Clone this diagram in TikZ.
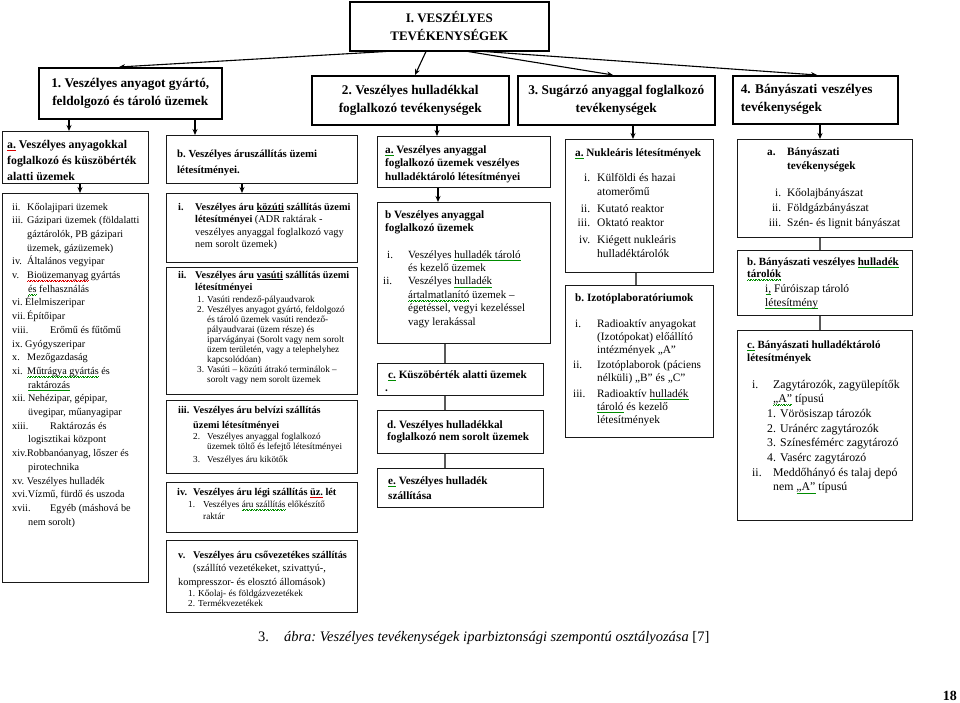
\documentclass[tikz,border=0pt]{standalone}
\usepackage{fontspec}
\setmainfont{Liberation Serif}
\usetikzlibrary{arrows.meta}
\newcommand\lb[2][15pt]{\makebox[#1][l]{#2}}
\newcommand\rl[2][14pt]{\makebox[#1][r]{#2}}
\newcommand\ind[1][15pt]{\hspace*{#1}}
\newcommand\wv[2]{\setbox0\hbox{#2}\rlap{\color{#1}\makebox[\wd0][l]{\xleaders\hbox{\rule[-2.9pt]{0.8pt}{0.55pt}\rule[-2.3pt]{0.8pt}{0.55pt}}\hfill}}\box0\relax}
\newcommand\sqr[1]{\wv{red!85!black}{#1}}
\newcommand\sqg[1]{\wv{green!55!black}{#1}}
\newcommand\T[5]{\node[anchor=base west, inner sep=0pt, font=#4] (#1) at (#2,#3) {\begin{tabular}[t]{@{}l@{}}#5\end{tabular}};}
\newcommand\B[5]{\node[bx, minimum width=#4pt, minimum height=#5pt] (#1) at (#2,#3) {};}
\tikzset{
  bx/.style={draw=black!90, line width=1.2pt, inner sep=0pt, anchor=north west},
  tbx/.style={bx, draw=black, line width=1.5pt},
  lvl/.style={tbx, align=center, font=\bfseries\fontsize{13.3}{18}\selectfont},
  arr/.style={line width=1.1pt, -{Stealth[length=6pt,width=5pt]}},
  ln/.style={line width=1.4pt, draw=black!65},
}
\begin{document}
\frenchspacing
\begin{tikzpicture}[x=1pt,y=-1pt]
\useasboundingbox (0,0) rectangle (960,702);
\fill[white] (0,0) rectangle (960,702);

% top and level 2
\node[tbx, minimum width=199pt, minimum height=49pt, align=center, font=\bfseries\fontsize{13}{18}\selectfont] (top) at (349,1) {I. VESZÉLYES\\TEVÉKENYSÉGEK};
\node[lvl, minimum width=183pt, minimum height=51pt] (L1) at (38,67) {1. Veszélyes anyagot gyártó,\\feldolgozó és tároló üzemek};
\node[lvl, minimum width=197pt, minimum height=49pt] (L2) at (311,75) {2. Veszélyes hulladékkal\\foglalkozó tevékenységek};
\node[lvl, minimum width=197pt, minimum height=49pt] (L3) at (517,75) {3. Sugárzó anyaggal foglalkozó\\tevékenységek};
\node[lvl, minimum width=165pt, minimum height=48pt, align=left, text width=149pt] (L4) at (732,75) {4. Bányászati veszélyes\\tevékenységek};

% boxes
\B{C1a}{2}{131}{146}{52}
\B{C1l}{2}{193}{146}{389}
\B{C2b}{166}{135}{191}{48}
\B{C2i}{166}{193}{191}{69}
\B{C2ii}{166}{267}{191}{127}
\B{C2iii}{166}{400}{191}{73}
\B{C2iv}{166}{482}{191}{50}
\B{C2v}{166}{540}{191}{72}
\B{C3a}{377}{136}{173}{51}
\B{C3b}{377}{202}{173}{141}
\B{C3c}{377}{363}{166}{32}
\B{C3d}{377}{410}{166}{43}
\B{C3e}{377}{468}{166}{39}
\B{C4a}{565}{139}{148}{133}
\B{C4b}{565}{285}{148}{152}
\B{C5a}{737}{139}{175}{98}
\B{C5b}{737}{250}{175}{65}
\B{C5c}{737}{330}{175}{190}

% connectors
\draw[arr] ([xshift=37pt]top.south west) -- ([xshift=81pt]L1.north west);
\draw[arr] ([xshift=77pt]top.south west) -- ([xshift=104pt]L2.north west);
\draw[arr] ([xshift=119pt]top.south west) -- ([xshift=96pt]L3.north west);
\draw[arr] ([xshift=135pt]top.south west) -- ([xshift=85pt]L4.north west);
\draw[arr] ([xshift=31pt]L1.south west) -- ([xshift=67pt]C1a.north west);
\draw[arr] ([xshift=157pt]L1.south west) -- ([xshift=29pt]C2b.north west);
\draw[arr] ([xshift=78pt]C1a.south west) -- ([xshift=78pt]C1l.north west);
\draw[arr] ([xshift=76pt]C2b.south west) -- ([xshift=76pt]C2i.north west);
\draw[arr] ([xshift=126pt]L2.south west) -- ([xshift=60pt]C3a.north west);
\draw[arr] ([xshift=61pt]C3a.south west) -- ([xshift=61pt]C3b.north west);
\draw[ln] ([xshift=68pt]C3b.south west) -- ([xshift=68pt]C3c.north west);
\draw[ln] ([xshift=68pt]C3c.south west) -- ([xshift=68pt]C3d.north west);
\draw[ln] ([xshift=68pt]C3d.south west) -- ([xshift=68pt]C3e.north west);
\draw[arr] ([xshift=116pt]L3.south west) -- ([xshift=68pt]C4a.north west);
\draw[ln] ([xshift=71pt]C4a.south west) -- ([xshift=71pt]C4b.north west);
\draw[arr] ([xshift=88pt]L4.south west) -- ([xshift=83pt]C5a.north west);
\draw[ln] ([xshift=83pt]C5a.south west) -- ([xshift=83pt]C5b.north west);
\draw[ln] ([xshift=83pt]C5b.south west) -- ([xshift=83pt]C5c.north west);

% column 1
\T{t1a}{7}{148}{\bfseries\fontsize{11.8}{16}\selectfont}{\sqr{a.} Veszélyes anyagokkal\\foglalkozó és küszöbérték\\alatti üzemek}
\T{t1l}{12}{210}{\fontsize{10.2}{13.7}\selectfont}{%
\lb{ii.}Kőolajipari üzemek\\
\lb{iii.}Gázipari üzemek (földalatti\\
\ind gáztárolók, PB gázipari\\
\ind üzemek, gázüzemek)\\
\lb{iv.}Általános vegyipar\\
\lb{v.}\sqr{Bioüzemanyag} gyártás\\
\ind[16pt]\sqg{és} felhasználás\\
vi. Élelmiszeripar\\
\lb{vii.}Építőipar\\
\lb[38pt]{viii.}Erőmű és fűtőmű\\
ix.\ Gyógyszeripar\\
\lb{x.}Mezőgazdaság\\
\lb{xi.}\sqg{Műtrágya gyártás} és\\
\ind[16pt]\sqg{raktározás}\\
xii. Nehézipar, gépipar,\\
\ind[16pt]üvegipar, műanyagipar\\
\lb[38pt]{xiii.}Raktározás és\\
\ind[16pt]logisztikai központ\\
xiv.Robbanóanyag, lőszer és\\
\ind[16pt]pirotechnika\\
xv. Veszélyes hulladék\\
xvi.Vízmű, fürdő és uszoda\\
\lb[38pt]{xvii.}Egyéb (máshová be\\
\ind[16pt]nem sorolt)}

% column 2
\T{t2b}{177}{157}{\bfseries\fontsize{10.8}{16}\selectfont}{b. Veszélyes áruszállítás üzemi\\létesítményei.}
\T{t2i}{178}{210}{\fontsize{10.3}{12.5}\selectfont}{%
\lb[17pt]{\textbf{i.}}\textbf{Veszélyes áru \underline{közúti} szállítás üzemi}\\
\ind[17pt]\textbf{létesítményei} (ADR raktárak -\\
\ind[17pt]veszélyes anyaggal foglalkozó vagy\\
\ind[17pt]nem sorolt üzemek)}
\T{t2ii}{178}{278}{\fontsize{10.3}{12.5}\selectfont}{%
\lb[17pt]{\textbf{ii.}}\textbf{Veszélyes áru \underline{vasúti} szállítás üzemi}\\
\ind[17pt]\textbf{létesítményei}}
\T{t2iis}{197}{302}{\fontsize{9.2}{10}\selectfont}{%
\lb[10pt]{1.}Vasúti rendező-pályaudvarok\\
\lb[10pt]{2.}Veszélyes anyagot gyártó, feldolgozó\\
\ind[10pt]és tároló üzemek vasúti rendező-\\
\ind[10pt]pályaudvarai (üzem része) és\\
\ind[10pt]iparvágányai (Sorolt vagy nem sorolt\\
\ind[10pt]üzem területén, vagy a telephelyhez\\
\ind[10pt]kapcsolódóan)\\
\lb[10pt]{3.}Vasúti – közúti átrakó terminálok –\\
\ind[10pt]sorolt vagy nem sorolt üzemek}
\T{t2iii}{178}{413}{\fontsize{10.3}{15}\selectfont}{%
\lb[15pt]{\textbf{iii.}}\textbf{Veszélyes áru belvízi szállítás}\\
\ind[15pt]\textbf{üzemi létesítményei}}
\T{t2iiis}{193}{439.5}{\fontsize{9.2}{10}\selectfont}{%
\lb[14pt]{2.}Veszélyes anyaggal foglalkozó\\
\ind[14pt]üzemek töltő és lefejtő létesítményei\\[2.5pt]
\lb[14pt]{3.}Veszélyes áru kikötők}
\T{t2iv}{177}{495}{\fontsize{10.3}{12.5}\selectfont}{%
\lb[16pt]{\textbf{iv.}}\textbf{Veszélyes áru légi szállítás \sqr{üz.} lét}}
\T{t2ivs}{188}{507.5}{\fontsize{9.2}{11.5}\selectfont}{%
\lb[15pt]{1.}Veszélyes \sqg{áru szállítás} előkészítő\\
\ind[15pt]raktár}
\T{t2v}{178}{558}{\fontsize{10.3}{13.5}\selectfont}{%
\lb[15pt]{\textbf{v.}}\textbf{Veszélyes áru csővezetékes szállítás}\\
\ind[15pt](szállító vezetékeket, szivattyú-,\\
kompresszor- és elosztó állomások)}
\T{t2vs}{188}{596}{\fontsize{9.2}{10}\selectfont}{%
\lb[10pt]{1.}Kőolaj- és földgázvezetékek\\
\lb[10pt]{2.}Termékvezetékek}

% column 3
\T{t3a}{385}{153}{\bfseries\fontsize{11.2}{13.5}\selectfont}{\sqg{a.} Veszélyes anyaggal\\foglalkozó üzemek veszélyes\\hulladéktároló létesítményei}
\T{t3b}{385}{218}{\bfseries\fontsize{11.2}{13}\selectfont}{b Veszélyes anyaggal\\foglalkozó üzemek}
\T{t3bl}{383}{258}{\fontsize{11}{13.4}\selectfont}{%
\lb[25pt]{\hspace*{4pt}i.}Veszélyes \sqg{hulladék tároló}\\
\ind[25pt]és kezelő üzemek\\
\lb[25pt]{ii.}Veszélyes \sqg{hulladék}\\
\ind[25pt]\sqg{ártalmatlanító} üzemek –\\
\ind[25pt]égetéssel, vegyi kezeléssel\\
\ind[25pt]vagy lerakással}
\T{t3c}{388}{378}{\bfseries\fontsize{11.2}{13}\selectfont}{\sqg{c.} Küszöbérték alatti üzemek\\\hspace*{-3pt}.}
\T{t3d}{387}{428}{\bfseries\fontsize{11.2}{12.8}\selectfont}{d. Veszélyes hulladékkal\\foglalkozó nem sorolt üzemek}
\T{t3e}{388}{484}{\bfseries\fontsize{11.2}{15}\selectfont}{\sqg{e.} Veszélyes hulladék\\szállítása}

% column 4
\T{t4a}{575}{156}{\bfseries\fontsize{11.2}{14}\selectfont}{\sqg{a.} Nukleáris létesítmények}
\T{t4al}{575}{181}{\fontsize{11.5}{14.5}\selectfont}{%
\rl[15pt]{i.}\hspace{7pt}Külföldi és hazai\\
\ind[22pt]atomerőmű\\[2pt]
\rl[15pt]{ii.}\hspace{7pt}Kutató reaktor\\
\rl[15pt]{iii.}\hspace{7pt}Oktató reaktor\\[2pt]
\rl[15pt]{iv.}\hspace{7pt}Kiégett nukleáris\\
\ind[22pt]hulladéktárolók}
\T{t4b}{575}{301}{\bfseries\fontsize{11.2}{14}\selectfont}{b. Izotóplaboratóriumok}
\T{t4bl}{573}{327}{\fontsize{11.3}{13}\selectfont}{%
\lb[24pt]{\hspace*{2pt}i.}Radioaktív anyagokat\\
\ind[24pt](Izotópokat) előállító\\
\ind[24pt]intézmények „A”\\[2.5pt]
\lb[24pt]{ii.}Izotóplaborok (páciens\\
\ind[24pt]nélküli) „B” és „C”\\[2.5pt]
\lb[24pt]{iii.}Radioaktív \sqg{hulladék}\\
\ind[24pt]\sqg{tároló} és kezelő\\
\ind[24pt]létesítmények}

% column 5
\T{t5a}{767}{155}{\bfseries\fontsize{11.2}{14}\selectfont}{\lb[20pt]{a.}Bányászati\\\ind[20pt]tevékenységek}
\T{t5al}{767}{196}{\fontsize{11.4}{15}\selectfont}{%
\rl[14pt]{i.}\hspace{6pt}Kőolajbányászat\\
\rl[14pt]{ii.}\hspace{6pt}Földgázbányászat\\
\rl[14pt]{iii.}\hspace{6pt}Szén- és lignit bányászat}
\T{t5b}{747}{265}{\bfseries\fontsize{11}{12.4}\selectfont}{b. Bányászati veszélyes \sqg{hulladék}\\\sqg{tárolók}}
\T{t5bl}{765}{292}{\fontsize{11.5}{14}\selectfont}{\sqg{i,} Fúróiszap tároló\\\sqg{létesítmény}}
\T{t5c}{747}{348}{\bfseries\fontsize{11}{13}\selectfont}{\sqg{c.} Bányászati hulladéktároló\\létesítmények}
\T{t5cl}{752}{388}{\fontsize{11.8}{14.7}\selectfont}{%
\lb[21pt]{i.}Zagytározók, zagyülepítők\\
\ind[21pt]\sqg{„A”} típusú\\
\ind[15pt]\lb[13pt]{1.}Vörösiszap tározók\\
\ind[15pt]\lb[13pt]{2.}Uránérc zagytározók\\
\ind[15pt]\lb[13pt]{3.}Színesfémérc zagytározó\\
\ind[15pt]\lb[13pt]{4.}Vasérc zagytározó\\
\lb[21pt]{ii.}Meddőhányó és talaj depó\\
\ind[21pt]nem \sqg{„A”} típusú}

% caption and page number
\node[anchor=base west, inner sep=0pt, font=\fontsize{14.5}{17}\selectfont] (cap) at (258,641) {3.\hspace{15pt}\textit{ábra: Veszélyes tevékenységek iparbiztonsági szempontú osztályozása} [7]};
\node[anchor=base east, inner sep=0pt, font=\bfseries\fontsize{14}{16}\selectfont] (pg) at (957,700) {18};
\end{tikzpicture}
\end{document}
